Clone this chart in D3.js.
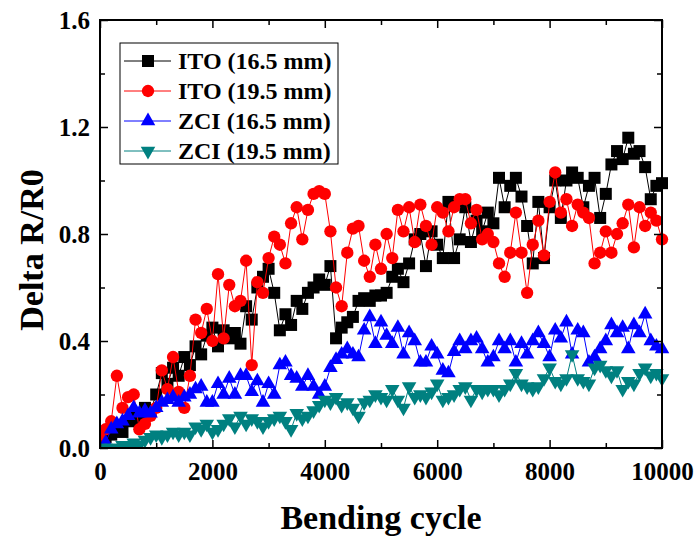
<!DOCTYPE html>
<html>
<head>
<meta charset="utf-8">
<script src="https://cdn.jsdelivr.net/npm/d3@7.9.0/dist/d3.min.js"></script>
<style>
  body { margin: 0; background: #fff; }
  svg text { font-family: "Liberation Serif", "Times New Roman", serif; font-weight: bold; }
</style>
</head>
<body>
<svg id="chart" width="698" height="538"></svg>
<script>
// bending cycles, one reading every 100 cycles
const cycles = d3.range(0, 10001, 100);

const ito165 = [0.02,0.04,0.05,0.08,0.06,0.10,0.12,0.10,0.15,0.14,
  0.20,0.28,0.24,0.30,0.27,0.34,0.31,0.38,0.35,0.42,
  0.45,0.38,0.44,0.41,0.43,0.39,0.53,0.48,0.60,0.64,
  0.67,0.58,0.44,0.50,0.46,0.55,0.52,0.58,0.60,0.63,
  0.61,0.68,0.41,0.45,0.47,0.49,0.55,0.56,0.55,0.57,
  0.57,0.58,0.64,0.67,0.62,0.69,0.78,0.80,0.68,0.81,
  0.76,0.71,0.92,0.71,0.78,0.90,0.77,0.85,0.81,0.88,
  0.84,1.01,0.90,0.98,1.01,0.94,0.83,0.69,0.92,0.71,
  0.90,1.00,0.86,1.00,1.03,1.01,0.90,0.98,1.01,0.86,
  0.95,1.06,1.11,1.08,1.16,1.10,1.11,1.05,0.93,0.98,0.99];

const ito195 = [0.04,0.07,0.10,0.27,0.15,0.19,0.20,0.07,0.09,0.12,
  0.15,0.29,0.22,0.34,0.21,0.15,0.27,0.48,0.43,0.52,
  0.40,0.65,0.41,0.61,0.53,0.55,0.70,0.31,0.62,0.58,
  0.71,0.79,0.76,0.69,0.84,0.90,0.78,0.89,0.95,0.96,
  0.95,0.81,0.60,0.53,0.73,0.82,0.83,0.70,0.64,0.76,
  0.67,0.80,0.71,0.89,0.81,0.90,0.77,0.91,0.83,0.76,
  0.90,0.88,0.81,0.90,0.93,0.93,0.84,0.89,0.78,0.80,
  0.77,0.69,0.64,0.73,0.88,0.73,0.58,0.76,0.85,0.72,
  0.92,1.03,0.88,0.93,0.83,0.91,0.88,0.86,0.69,0.73,
  0.81,0.73,0.80,0.84,0.91,0.75,0.90,0.83,0.88,0.85,0.78];

const zci165 = [0.00,0.02,0.07,0.09,0.10,0.12,0.15,0.13,0.14,0.13,
  0.15,0.17,0.18,0.19,0.17,0.19,0.20,0.22,0.23,0.17,
  0.17,0.24,0.20,0.26,0.20,0.27,0.27,0.21,0.25,0.17,
  0.24,0.20,0.31,0.32,0.27,0.26,0.23,0.27,0.23,0.20,
  0.23,0.30,0.33,0.35,0.37,0.35,0.34,0.44,0.49,0.39,
  0.47,0.42,0.39,0.45,0.35,0.43,0.40,0.32,0.32,0.38,
  0.35,0.29,0.28,0.36,0.40,0.37,0.40,0.41,0.37,0.32,
  0.34,0.40,0.37,0.40,0.32,0.39,0.35,0.40,0.43,0.39,
  0.34,0.44,0.41,0.47,0.35,0.44,0.43,0.32,0.34,0.37,
  0.40,0.46,0.43,0.45,0.37,0.46,0.43,0.50,0.40,0.38,0.37];

const zci195 = [0.00,0.00,0.00,0.00,0.01,0.01,0.02,0.01,0.03,0.04,
  0.05,0.04,0.05,0.06,0.05,0.06,0.05,0.08,0.07,0.09,
  0.06,0.07,0.09,0.11,0.08,0.12,0.09,0.11,0.10,0.08,
  0.10,0.11,0.12,0.10,0.07,0.13,0.11,0.12,0.14,0.16,
  0.18,0.17,0.19,0.16,0.17,0.15,0.12,0.17,0.18,0.20,
  0.19,0.18,0.22,0.18,0.15,0.23,0.19,0.20,0.19,0.21,
  0.24,0.18,0.19,0.20,0.22,0.23,0.18,0.22,0.21,0.22,
  0.22,0.20,0.22,0.24,0.28,0.24,0.23,0.22,0.23,0.26,
  0.30,0.25,0.24,0.26,0.35,0.26,0.25,0.24,0.30,0.31,
  0.29,0.27,0.29,0.22,0.25,0.24,0.28,0.30,0.27,0.28,0.26];

const seriesNames = ["ITO (16.5 mm)", "ITO (19.5 mm)", "ZCI (16.5 mm)", "ZCI (19.5 mm)"];
const seriesValues = [ito165, ito195, zci165, zci195];
const seriesColors = ["#000000", "#ff0000", "#0000ff", "#008080"];

const xTicks = [0, 2000, 4000, 6000, 8000, 10000];
const yTicks = [0.0, 0.4, 0.8, 1.2, 1.6];

const margin = { left: 100, right: 36, top: 20, bottom: 90 };
const width = 698, height = 538;

const svg = d3.select("#chart");

let x = d3.scaleLinear().domain([0, 10000]).range([margin.left, width - margin.right]);
let y = d3.scaleLinear().domain([0, 1.6]).range([height - margin.bottom, margin.top]);

// marker shapes
let squareShape = d3.symbol().type(d3.symbolSquare).size(144);
let circleShape = d3.symbol().type(d3.symbolCircle).size(120);
let triShape = d3.symbol().type(d3.symbolTriangle).size(92);
let shapes = [
  { path: squareShape(), rot: 0 },
  { path: circleShape(), rot: 0 },
  { path: triShape(), rot: 0 },
  { path: triShape(), rot: 180 }
];

let plot = svg.append("g");
plot.append("clipPath").attr("id", "clip")
  .append("rect")
  .attr("x", margin.left).attr("y", margin.top - 10)
  .attr("width", width - margin.left - margin.right + 10)
  .attr("height", height - margin.top - margin.bottom + 10);

let line = d3.line().x(d => x(d[0])).y(d => y(d[1]));

seriesValues.forEach((vals, i) => {
  let pts = cycles.map((c, j) => [c, vals[j]]);
  let g = plot.append("g").attr("clip-path", "url(#clip)");
  g.append("path")
    .datum(pts)
    .attr("d", line)
    .attr("fill", "none")
    .attr("stroke", seriesColors[i])
    .attr("stroke-width", 1);
  g.selectAll("path.mk")
    .data(pts)
    .enter()
    .append("path")
    .attr("class", "mk")
    .attr("d", shapes[i].path)
    .attr("transform", d => `translate(${x(d[0])},${y(d[1])}) rotate(${shapes[i].rot})`)
    .attr("fill", seriesColors[i]);
});

// axes, ticks pointing inward on all four sides
let bottom = height - margin.bottom;
let right = width - margin.right;

let xAxis = d3.axisBottom(x).tickValues(xTicks).tickSizeInner(-8).tickSizeOuter(0).tickPadding(14).tickFormat(d3.format("d"));
let xMinor = d3.axisBottom(x).tickValues(d3.range(1000, 10000, 2000)).tickSize(-5).tickFormat("");
let yAxis = d3.axisLeft(y).tickValues(yTicks).tickSizeInner(-8).tickSizeOuter(0).tickPadding(10).tickFormat(d3.format(".1f"));
let yMinor = d3.axisLeft(y).tickValues([0.2, 0.6, 1.0, 1.4]).tickSize(-5).tickFormat("");

function styleAxis(g) {
  g.select(".domain").remove();
  g.selectAll("line").attr("stroke", "#000").attr("stroke-width", 1.5);
  g.selectAll("text").attr("fill", "#000").style("font-size", "25px")
    .style("font-family", "'Liberation Serif', serif").style("font-weight", "bold");
}

svg.append("g").attr("transform", `translate(0,${bottom})`).call(xAxis).call(styleAxis);
svg.append("g").attr("transform", `translate(0,${bottom})`).call(xMinor).call(styleAxis);
svg.append("g").attr("transform", `translate(0,${margin.top})`)
  .call(d3.axisTop(x).tickValues(xTicks).tickSize(-8).tickFormat("")).call(styleAxis);
svg.append("g").attr("transform", `translate(0,${margin.top})`)
  .call(d3.axisTop(x).tickValues(d3.range(1000, 10000, 2000)).tickSize(-5).tickFormat("")).call(styleAxis);
svg.append("g").attr("transform", `translate(${margin.left},0)`).call(yAxis).call(styleAxis);
svg.append("g").attr("transform", `translate(${margin.left},0)`).call(yMinor).call(styleAxis);
svg.append("g").attr("transform", `translate(${right},0)`)
  .call(d3.axisRight(y).tickValues(yTicks).tickSize(-8).tickFormat("")).call(styleAxis);
svg.append("g").attr("transform", `translate(${right},0)`)
  .call(d3.axisRight(y).tickValues([0.2, 0.6, 1.0, 1.4]).tickSize(-5).tickFormat("")).call(styleAxis);

// frame
svg.append("rect")
  .attr("x", margin.left).attr("y", margin.top)
  .attr("width", right - margin.left).attr("height", bottom - margin.top)
  .attr("fill", "none").attr("stroke", "#000").attr("stroke-width", 2);

// axis titles
svg.append("text")
  .attr("x", (margin.left + right) / 2).attr("y", 529)
  .attr("text-anchor", "middle")
  .style("font-size", "34px")
  .text("Bending cycle");

svg.append("text")
  .attr("transform", "translate(43,250) rotate(-90)")
  .attr("text-anchor", "middle")
  .style("font-size", "34px")
  .text("Delta R/R0");

// legend
let legend = svg.append("g");
legend.append("rect")
  .attr("x", 120).attr("y", 43).attr("width", 218).attr("height", 121)
  .attr("fill", "#fff").attr("stroke", "#000").attr("stroke-width", 1);

seriesNames.forEach((name, i) => {
  let ly = 61 + i * 30;
  legend.append("line")
    .attr("x1", 124).attr("x2", 171).attr("y1", ly).attr("y2", ly)
    .attr("stroke", seriesColors[i]).attr("stroke-width", 1);
  legend.append("path")
    .attr("d", shapes[i].path)
    .attr("transform", `translate(148,${ly}) rotate(${shapes[i].rot})`)
    .attr("fill", seriesColors[i]);
  legend.append("text")
    .attr("x", 178).attr("y", ly + 8)
    .style("font-size", "24px")
    .text(name);
});
</script>
</body>
</html>
